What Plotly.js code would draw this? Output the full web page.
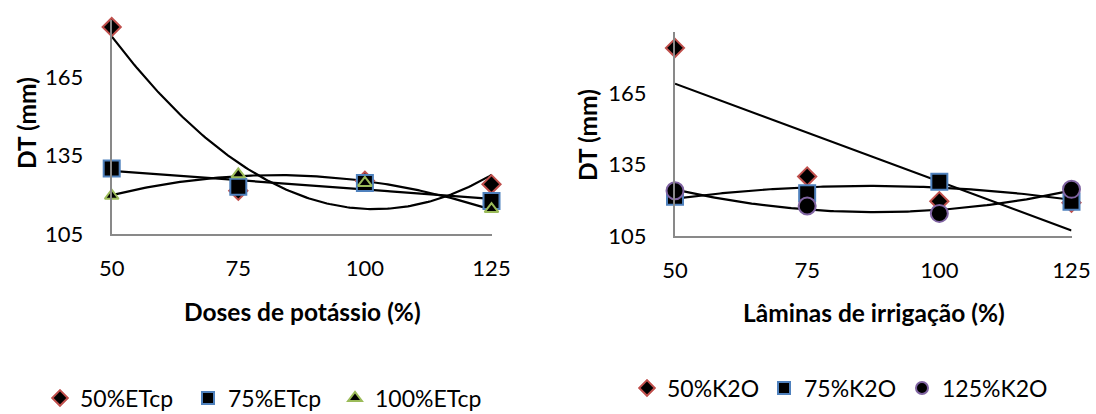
<!DOCTYPE html>
<html>
<head>
<meta charset="utf-8">
<script src="https://cdn.plot.ly/plotly-3.0.1.min.js"></script>
<style>
  html, body { margin: 0; padding: 0; background: #ffffff; }
  #chart { width: 1096px; height: 414px; }
</style>
</head>
<body>
<div id="chart"></div>
<script>
// Diâmetro do tronco (DT, mm) por dose de potássio e por lâmina de irrigação
const doses = [50, 75, 100, 125];
const etcp50 = [184, 121.5, 125.3, 124];
const etcp75 = [130, 123, 124.5, 117.6];
const etcp100 = [119.6, 127.8, 124.5, 114.5];

const laminas = [50, 75, 100, 125];
const k2o50 = [184, 130, 119.6, 119];
const k2o75 = [121.5, 123, 127.8, 119.4];
const k2o125 = [124, 117.6, 114.5, 124.6];

const xTicks = [50, 75, 100, 125];
const yTicks = [105, 135, 165];

// Least-squares polynomial fit (normal equations + Gauss-Jordan elimination)
function polyfit(xs, ys, order) {
  const n = order + 1;
  const A = [];
  for (let r = 0; r < n; r++) {
    const row = [];
    for (let c = 0; c < n; c++) {
      row.push(xs.reduce((s, x) => s + Math.pow(x, r + c), 0));
    }
    row.push(xs.reduce((s, x, i) => s + Math.pow(x, r) * ys[i], 0));
    A.push(row);
  }
  for (let p = 0; p < n; p++) {
    let best = p;
    for (let r = p + 1; r < n; r++) if (Math.abs(A[r][p]) > Math.abs(A[best][p])) best = r;
    [A[p], A[best]] = [A[best], A[p]];
    for (let r = 0; r < n; r++) {
      if (r === p) continue;
      const f = A[r][p] / A[p][p];
      for (let c = p; c <= n; c++) A[r][c] -= f * A[p][c];
    }
  }
  return A.map((row, i) => row[n] / row[i]);
}

// Trendline of the given polynomial order, sampled across the data's x span
function trend(xs, ys, order, xa, ya) {
  const coef = polyfit(xs, ys, order);
  const lo = Math.min(...xs), hi = Math.max(...xs);
  const tx = [], ty = [];
  for (let i = 0; i <= 150; i++) {
    const x = lo + (hi - lo) * i / 150;
    tx.push(x);
    ty.push(coef.reduce((s, c, k) => s + c * Math.pow(x, k), 0));
  }
  return {
    x: tx, y: ty, xaxis: xa, yaxis: ya, type: 'scatter', mode: 'lines',
    line: { color: '#000000', width: 2.2 }, showlegend: false, hoverinfo: 'skip',
    cliponaxis: false
  };
}

function pts(xs, ys, name, symbol, size, edge, xa, ya, legend) {
  return {
    x: xs, y: ys, name: name, xaxis: xa, yaxis: ya, legend: legend,
    type: 'scatter', mode: 'markers', cliponaxis: false,
    marker: { symbol: symbol, size: size, color: '#000000', line: { color: edge, width: 2 } }
  };
}

const RED = '#C0504D', BLUE = '#4F81BD', GREEN = '#9BBB59', PURPLE = '#8064A2';

const data = [
  trend(doses, etcp50, 2, 'x', 'y'),
  trend(doses, etcp75, 1, 'x', 'y'),
  trend(doses, etcp100, 2, 'x', 'y'),
  pts(doses, etcp50, '50%ETcp', 'diamond', 14, RED, 'x', 'y', 'legend'),
  pts(doses, etcp75, '75%ETcp', 'square', 16, BLUE, 'x', 'y', 'legend2'),
  pts(doses, etcp100, '100%ETcp', 'triangle-up', 12, GREEN, 'x', 'y', 'legend3'),

  trend(laminas, k2o50, 1, 'x2', 'y2'),
  trend(laminas, k2o75, 2, 'x2', 'y2'),
  trend(laminas, k2o125, 2, 'x2', 'y2'),
  pts(laminas, k2o50, '50%K2O', 'diamond', 14, RED, 'x2', 'y2', 'legend4'),
  pts(laminas, k2o75, '75%K2O', 'square', 16, BLUE, 'x2', 'y2', 'legend5'),
  pts(laminas, k2o125, '125%K2O', 'circle', 17, PURPLE, 'x2', 'y2', 'legend6')
];

const FONT = 'Lato, Carlito, Calibri, sans-serif';
const W = 1096, H = 414;
const px = v => v / W;
const py = v => 1 - v / H;

const xBase = {
  range: [50, 125], tickvals: xTicks, ticks: '', showgrid: false, zeroline: false,
  showline: true, linecolor: '#898989', linewidth: 2, automargin: false,
  tickfont: { family: FONT, size: 22, color: '#000000' }, ticklabelstandoff: 14
};
const yBase = {
  tickvals: yTicks, ticks: '', showgrid: false, zeroline: false,
  showline: true, linecolor: '#898989', linewidth: 2, automargin: false,
  tickfont: { family: FONT, size: 22, color: '#000000' }, ticklabelstandoff: 22
};

// one legend box per entry so each key sits at its own place along the row
function leg(left, mid) {
  return {
    orientation: 'h', font: { family: FONT, size: 23, color: '#000000' },
    itemsizing: 'constant', itemwidth: 30, bgcolor: 'rgba(0,0,0,0)',
    xanchor: 'left', yanchor: 'middle', x: px(left), y: py(mid)
  };
}

const titleFont = { family: FONT, size: 24.5, color: '#000000', weight: 'bold' };

const layout = {
  width: W, height: H,
  margin: { l: 0, r: 0, t: 0, b: 0, autoexpand: false },
  paper_bgcolor: '#ffffff', plot_bgcolor: '#ffffff',
  xaxis: Object.assign({}, xBase, { domain: [px(111.7), px(491.5)], anchor: 'y' }),
  yaxis: Object.assign({}, yBase, { domain: [py(234), py(20)], range: [105, 186.7], anchor: 'x' }),
  xaxis2: Object.assign({}, xBase, { domain: [px(675), px(1071.5)], anchor: 'y2' }),
  yaxis2: Object.assign({}, yBase, { domain: [py(236), py(31.7)], range: [105, 190.8], anchor: 'x2' }),
  legend: leg(40, 398),
  legend2: leg(188, 398),
  legend3: leg(335, 398),
  legend4: leg(627, 388),
  legend5: leg(764, 388),
  legend6: leg(902, 388),
  annotations: [
    { text: '<b>Doses de potássio (%)</b>', x: px(302), y: py(311), xref: 'paper', yref: 'paper',
      showarrow: false, font: titleFont, xanchor: 'center', yanchor: 'middle' },
    { text: '<b>Lâminas de irrigação (%)</b>', x: px(874), y: py(312), xref: 'paper', yref: 'paper',
      showarrow: false, font: titleFont, xanchor: 'center', yanchor: 'middle' },
    { text: '<b>DT (mm)</b>', x: px(26), y: py(123), xref: 'paper', yref: 'paper', textangle: -90,
      showarrow: false, font: titleFont, xanchor: 'center', yanchor: 'middle' },
    { text: '<b>DT (mm)</b>', x: px(587), y: py(135), xref: 'paper', yref: 'paper', textangle: -90,
      showarrow: false, font: titleFont, xanchor: 'center', yanchor: 'middle' }
  ]
};

Plotly.newPlot('chart', data, layout, { displayModeBar: false, staticPlot: true });
</script>
</body>
</html>
